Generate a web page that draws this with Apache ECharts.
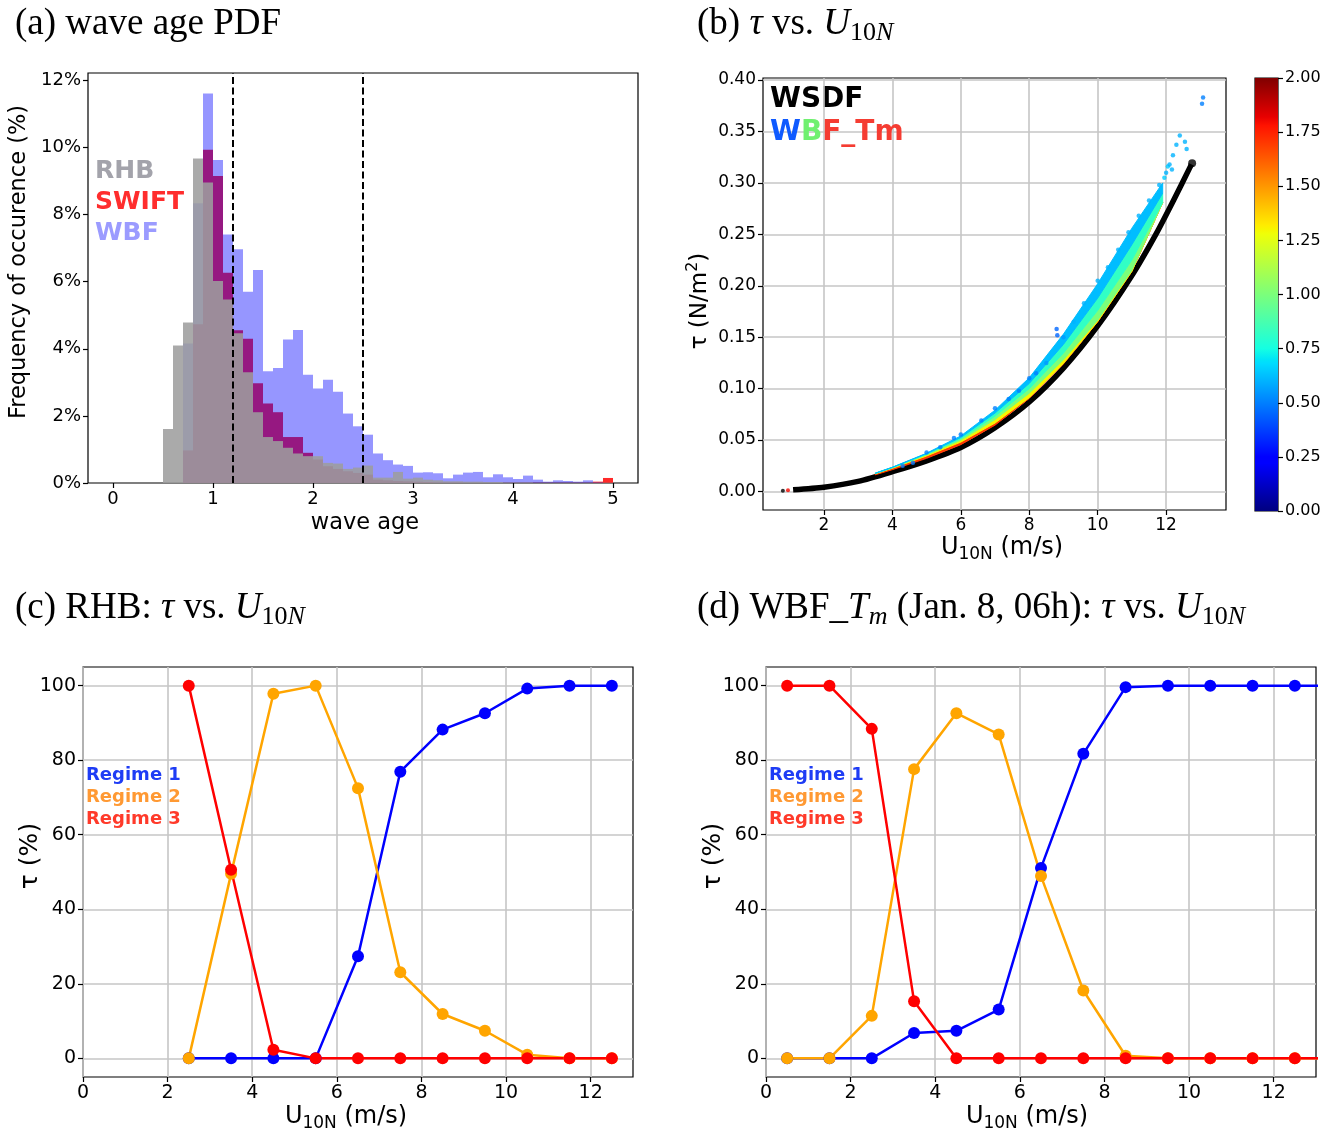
<!DOCTYPE html>
<html><head><meta charset="utf-8">
<script src="https://cdn.jsdelivr.net/npm/echarts@6/dist/echarts.min.js"></script>
<style>html,body{margin:0;padding:0;background:#fff}#c{width:1336px;height:1136px}</style>
</head><body><div id="c"></div>
<script>
// ================= DATA =================
// (a) wave age histograms (% per 0.1 bin, left edges)
const BIN_LEFT = [0.5,0.6,0.7,0.8,0.9,1.0,1.1,1.2,1.3,1.4,1.5,1.6,1.7,1.8,1.9,2.0,2.1,2.2,2.3,2.4,2.5,2.6,2.7,2.8,2.9,3.0,3.1,3.2,3.3,3.4,3.5,3.6,3.7,3.8,3.9,4.0,4.1,4.2,4.3,4.4,4.5,4.6,4.7,4.8,4.9];
const BIN_WIDTH = 0.1;
const RHB   = [1.61,4.10,4.78,9.67,8.96,6.02,5.47,4.46,3.30,2.11,1.37,1.25,1.05,0.88,0.80,0.80,0.60,0.58,0.42,0.46,0.52,0.16,0.16,0.33,0.13,0.16,0.10,0.08,0.05,0.05,0.04,0.04,0.03,0.03,0.02,0.02,0.02,0.01,0.01,0.01,0.01,0.01,0.01,0.01,0.01];
const SWIFT = [0,0,0.97,4.73,9.93,9.15,6.27,4.55,4.30,2.97,2.37,2.11,1.37,1.37,0.90,0.70,0.50,0.42,0.35,0.30,0.25,0.10,0.08,0.06,0.05,0.04,0.03,0.02,0.02,0.02,0.01,0.01,0.01,0.01,0.01,0.01,0.01,0.01,0.01,0.01,0.01,0.01,0.01,0.04,0.15];
const WBF   = [0,0,4.16,8.34,11.61,9.63,7.41,6.97,5.70,6.35,3.33,3.43,4.28,4.56,3.23,2.82,3.08,2.72,2.07,1.69,1.44,0.88,0.68,0.55,0.51,0.31,0.32,0.29,0.14,0.25,0.31,0.33,0.17,0.26,0.17,0.12,0.22,0.10,0.04,0.08,0.06,0.04,0.08,0.02,0];
const WAVE_AGE_LINES = [1.2, 2.5];
const A_XTICKS = [0,1,2,3,4,5];
const A_YTICKS = [0,2,4,6,8,10,12];

// (b) stress vs wind
const U_WSDF = [1.1,2,3,4,5,6,7,8,9,10,11,11.7,12.2,12.74];
const T_WSDF = [0.0017,0.0042,0.0098,0.0192,0.0298,0.0428,0.0620,0.0870,0.1200,0.1610,0.2100,0.2500,0.2820,0.3180];
const WSDF_END = [[12.76,0.319]];
const LOW_DOTS = [[0.8,0.0008,-1],[0.95,0.0012,1.8]];
const U_BAND = [3.5,4,5,6,7,8,9,10,11,11.9];
const BAND_EDGES = [
  [0.0162,0.0212,0.0322,0.0455,0.0645,0.0905,0.1240,0.1650,0.2140,0.2810],
  [0.0172,0.0226,0.0345,0.0480,0.0665,0.0912,0.1245,0.1652,0.2140,0.2810],
  [0.0175,0.0230,0.0355,0.0498,0.0700,0.0955,0.1280,0.1665,0.2150,0.2810],
  [0.0176,0.0232,0.0362,0.0512,0.0732,0.1000,0.1345,0.1760,0.2250,0.2810],
  [0.0177,0.0234,0.0367,0.0525,0.0762,0.1050,0.1430,0.1880,0.2400,0.2900],
  [0.0178,0.0236,0.0372,0.0540,0.0790,0.1105,0.1530,0.2020,0.2560,0.3000]
];
const BAND_WAVE_AGE = [1.7,1.3,1.0,0.82,0.62];
const EDGE_DOTS = [[4.3,0.025,0.5],[4.6,0.028,0.5],[5.0,0.038,0.5],[5.4,0.043,0.5],[5.8,0.052,0.5],[6.0,0.0555,0.5],[6.6,0.069,0.5],[7.0,0.081,0.5],[7.4,0.090,0.5],[7.7,0.098,0.5],[8.0,0.110,0.5],[8.2,0.115,0.5],[8.5,0.125,0.55],[8.8,0.158,0.45],[8.82,0.152,0.45],[9.0,0.150,0.55],[9.3,0.165,0.6],[9.6,0.183,0.6],[10.0,0.205,0.6],[10.3,0.218,0.6],[10.6,0.235,0.6],[10.9,0.252,0.6],[11.2,0.268,0.6],[11.5,0.283,0.6],[11.8,0.298,0.6],[11.95,0.305,0.65],[12.0,0.31,0.6],[12.05,0.316,0.65],[12.1,0.318,0.6],[12.17,0.313,0.6],[12.2,0.327,0.6],[12.3,0.337,0.6],[12.4,0.346,0.6],[12.55,0.340,0.6],[12.6,0.333,0.6],[13.05,0.377,0.5],[13.08,0.383,0.5]];
const B_XTICKS = [2,4,6,8,10,12];
const B_YTICKS = [0,0.05,0.10,0.15,0.20,0.25,0.30,0.35,0.40];
const CB_MIN = 0, CB_MAX = 2;
const CB_TICKS = [0,0.25,0.5,0.75,1.0,1.25,1.5,1.75,2.0];

// (c) RHB regimes
const C_X  = [2.5,3.5,4.5,5.5,6.5,7.5,8.5,9.5,10.5,11.5,12.5];
const C_R1 = [0,0,0,0,27.4,76.9,88.2,92.6,99.2,100,100];
const C_R2 = [0,49.5,97.8,100,72.5,23.1,11.9,7.4,1.0,0,0];
const C_R3 = [100,50.6,2.3,0,0,0,0,0,0,0,0];
// (d) WBF_Tm regimes
const D_X  = [0.5,1.5,2.5,3.5,4.5,5.5,6.5,7.5,8.5,9.5,10.5,11.5,12.5,13.5];
const D_R1 = [0,0,0,6.8,7.4,13.1,51.1,81.7,99.6,100,100,100,100,100];
const D_R2 = [0,0,11.4,77.6,92.6,86.9,48.9,18.2,0.7,0,0,0,0,0];
const D_R3 = [100,100,88.4,15.3,0,0,0,0,0,0,0,0,0,0];
const CD_XTICKS = [0,2,4,6,8,10,12];
const CD_YTICKS = [0,20,40,60,80,100];

// ================= STYLE HELPERS =================
const SANS = 'DejaVu Sans', SERIF = 'Liberation Serif';
const jetR=[[0,0],[0.35,0],[0.66,1],[0.89,1],[1,0.5]];
const jetG=[[0,0],[0.125,0],[0.375,1],[0.64,1],[0.91,0],[1,0]];
const jetB=[[0,0.5],[0.11,1],[0.34,1],[0.65,0],[1,0]];
function seg(t,a){t=Math.max(0,Math.min(1,t));for(let i=1;i<a.length;i++){if(t<=a[i][0]){const f=(t-a[i-1][0])/(a[i][0]-a[i-1][0]);return a[i-1][1]+f*(a[i][1]-a[i-1][1]);}}return a[a.length-1][1];}
function jetT(t){return 'rgb('+Math.round(255*seg(t,jetR))+','+Math.round(255*seg(t,jetG))+','+Math.round(255*seg(t,jetB))+')';}
function jet(v){return jetT((v-CB_MIN)/(CB_MAX-CB_MIN));}

function axisCommon(gi, min, max, ticks, fmt, fs, split, pos){
  return {type:'value', gridIndex:gi, min:min, max:max, position:pos,
    axisLine:{show:false, onZero:false},
    axisTick:{show:true, inside:false, length:5, customValues:ticks, lineStyle:{color:'#000', width:1.2}},
    axisLabel:{customValues:ticks, formatter:fmt, fontFamily:SANS, fontSize:fs, color:'#000', margin:7},
    splitLine:{show:split, lineStyle:{color:'#c6c6c6', width:1.6}}};
}
function histSeries(vals, fill){
  return {type:'custom', xAxisIndex:0, yAxisIndex:0, silent:true,
    data: BIN_LEFT.map((b,i)=>[b, vals[i]]),
    renderItem:function(params, api){
      const x0 = api.value(0), v = api.value(1);
      if (!v) return null;
      const p0 = api.coord([x0, 0]), p1 = api.coord([x0 + BIN_WIDTH, v]);
      return {type:'rect', shape:{x:p0[0], y:p1[1], width:p1[0]-p0[0], height:p0[1]-p1[1]}, style:{fill:fill}};
    }};
}
function regimeLine(gi, xs, ys, color){
  return {type:'line', xAxisIndex:gi, yAxisIndex:gi, data: xs.map((x,i)=>[x, ys[i]]),
    symbol:'circle', symbolSize:12, showSymbol:true, clip:true,
    lineStyle:{color:color, width:2.5}, itemStyle:{color:color}};
}
const gridBox = {show:true, borderColor:'#000', borderWidth:1.2, backgroundColor:'rgba(0,0,0,0)'};

const TF = 37, TS = 26;
const titleRich = {
  i:{fontStyle:'italic', fontFamily:SERIF, fontSize:TF, lineHeight:44},
  s:{fontFamily:SERIF, fontSize:TS, lineHeight:21, verticalAlign:'bottom'},
  si:{fontStyle:'italic', fontFamily:SERIF, fontSize:TS, lineHeight:21, verticalAlign:'bottom'}
};
function title(x, y, text){
  return {type:'text', x:x, y:y, style:{text:text, fontFamily:SERIF, fontSize:TF, lineHeight:44, fill:'#000', verticalAlign:'middle', rich:titleRich}};
}
const labRich = {s:{fontFamily:SANS, fontSize:17, lineHeight:16, verticalAlign:'bottom'}, p:{fontFamily:SANS, fontSize:16, lineHeight:14, verticalAlign:'top'}};
function label(x, y, text, fs, rot){
  return {type:'text', x:x, y:y, rotation: rot ? Math.PI/2 : 0,
    style:{text:text, fontFamily:SANS, fontSize:fs, lineHeight:30, fill:'#000', align:'center', verticalAlign:'middle', rich:labRich}};
}
function legendText(x, y, text, color, fs){
  return {type:'text', x:x, y:y, style:{text:text, fontFamily:SANS, fontWeight:'bold', fontSize:fs, fill:color, verticalAlign:'middle'}};
}

const cbStops = [0,0.11,0.125,0.34,0.35,0.375,0.5,0.64,0.65,0.66,0.89,0.91,1].map(t=>({offset:t, color:jetT(t)}));

const option = {
  animation:false,
  backgroundColor:'#fff',
  grid:[
    Object.assign({left:88, top:73, width:550, height:410}, gridBox),
    Object.assign({left:763, top:78, width:463, height:432}, gridBox),
    Object.assign({left:1255, top:78, width:23, height:433}, gridBox),
    Object.assign({left:83, top:667, width:550, height:410}, gridBox),
    Object.assign({left:766, top:667, width:550, height:410}, gridBox)
  ],
  xAxis:[
    axisCommon(0, -0.25, 5.25, A_XTICKS, v=>String(v), 18, false, 'bottom'),
    axisCommon(1, 0.22, 13.75, B_XTICKS, v=>String(v), 17, true, 'bottom'),
    {type:'category', gridIndex:2, data:['cb'], show:false},
    axisCommon(3, 0, 13, CD_XTICKS, v=>String(v), 19, true, 'bottom'),
    axisCommon(4, 0, 13, CD_XTICKS, v=>String(v), 19, true, 'bottom')
  ],
  yAxis:[
    axisCommon(0, 0, 12.22, A_YTICKS, v=>v+'%', 18, false, 'left'),
    axisCommon(1, -0.018, 0.402, B_YTICKS, v=>v.toFixed(2), 17, true, 'left'),
    axisCommon(2, CB_MIN, CB_MAX, CB_TICKS, v=>v.toFixed(2), 16, false, 'right'),
    axisCommon(3, -5, 105, CD_YTICKS, v=>String(v), 19, true, 'left'),
    axisCommon(4, -5, 105, CD_YTICKS, v=>String(v), 19, true, 'left')
  ],
  series:[
    histSeries(SWIFT, 'rgba(255,0,0,0.84)'),
    histSeries(WBF, 'rgba(0,0,255,0.41)'),
    histSeries(RHB, 'rgba(157,157,157,0.87)'),
    {type:'line', xAxisIndex:0, yAxisIndex:0, data:[], silent:true,
      markLine:{silent:true, symbol:['none','none'], label:{show:false}, animation:false,
        lineStyle:{color:'#000', type:[7,3.5], width:2},
        data: WAVE_AGE_LINES.map(v=>({xAxis:v}))}},
    // (b)
    {type:'line', xAxisIndex:1, yAxisIndex:1, data:U_WSDF.map((u,i)=>[u,T_WSDF[i]]), smooth:0.25,
      showSymbol:false, lineStyle:{color:'#000', width:5.5}, z:2},
    {type:'scatter', xAxisIndex:1, yAxisIndex:1, data:WSDF_END, symbolSize:8, itemStyle:{color:'#000'}, z:2},
    {type:'scatter', xAxisIndex:1, yAxisIndex:1, data:LOW_DOTS, symbolSize:4,
      itemStyle:{color:p=> p.value[2] < 0 ? '#000' : jet(p.value[2])}, z:3},
    {type:'custom', xAxisIndex:1, yAxisIndex:1, silent:true, z:3,
      data: BAND_WAVE_AGE.map((w,k)=>[k, w]),
      renderItem:function(params, api){
        const k = params.dataIndex;
        const lo = BAND_EDGES[k], hi = BAND_EDGES[k+1];
        const pts = U_BAND.map((u,i)=>api.coord([u, hi[i]]));
        const back = U_BAND.map((u,i)=>api.coord([u, lo[i]])).reverse();
        return {type:'polygon', shape:{points:pts.concat(back)}, style:{fill:jet(BAND_WAVE_AGE[k]), stroke:jet(BAND_WAVE_AGE[k]), lineWidth:1}};
      }},
    {type:'scatter', xAxisIndex:1, yAxisIndex:1, data:EDGE_DOTS, symbolSize:4.5,
      itemStyle:{color:p=>jet(p.value[2])}, z:4},
    // colorbar
    {type:'bar', xAxisIndex:2, yAxisIndex:2, data:[CB_MAX], barWidth:'100%', silent:true,
      itemStyle:{color:new echarts.graphic.LinearGradient(0,1,0,0,cbStops)}},
    // (c)
    regimeLine(3, C_X, C_R1, '#0000ff'),
    regimeLine(3, C_X, C_R2, '#ffa500'),
    regimeLine(3, C_X, C_R3, '#ff0000'),
    // (d)
    regimeLine(4, D_X, D_R1, '#0000ff'),
    regimeLine(4, D_X, D_R2, '#ffa500'),
    regimeLine(4, D_X, D_R3, '#ff0000')
  ],
  graphic:[
    title(15, 24, '(a) wave age PDF'),
    title(697, 24, '(b) {i|τ} vs. {i|U}{s|10}{si|N}'),
    title(15, 608, '(c) RHB: {i|τ} vs. {i|U}{s|10}{si|N}'),
    title(697, 608, '(d) WBF_{i|T}{si|m} (Jan. 8, 06h): {i|τ} vs. {i|U}{s|10}{si|N}'),
    label(19, 262, 'Frequency of occurence (%)', 22.5, true),
    label(365, 523, 'wave age', 22.5, false),
    label(700, 301, 'τ (N/m{p|2})', 23, true),
    label(1002, 548, 'U{s|10N} (m/s)', 24, false),
    label(30, 856, 'τ (%)', 25, true),
    label(346, 1117, 'U{s|10N} (m/s)', 24, false),
    label(713, 856, 'τ (%)', 25, true),
    label(1027, 1117, 'U{s|10N} (m/s)', 24, false),
    legendText(95, 171, 'RHB', '#a3a3ab', 25),
    legendText(95, 202, 'SWIFT', '#ff2d2d', 25),
    legendText(95, 233, 'WBF', '#9b9bff', 25),
    legendText(770, 100, 'WSDF', '#000', 28),
    {type:'text', x:770, y:133, z:100, style:{text:'{w|W}{b|B}{f|F_Tm}', verticalAlign:'middle', fontFamily:SANS, fontWeight:'bold', fontSize:28,
      rich:{w:{fill:'#0f5aff', fontFamily:SANS, fontWeight:'bold', fontSize:28}, b:{fill:'#70f070', fontFamily:SANS, fontWeight:'bold', fontSize:28}, f:{fill:'#f53c32', fontFamily:SANS, fontWeight:'bold', fontSize:28}}}},
    legendText(86, 775, 'Regime 1', '#1e3cf5', 18),
    legendText(86, 797, 'Regime 2', '#ff9933', 18),
    legendText(86, 819, 'Regime 3', '#ff3a2a', 18),
    legendText(769, 775, 'Regime 1', '#1e3cf5', 18),
    legendText(769, 797, 'Regime 2', '#ff9933', 18),
    legendText(769, 819, 'Regime 3', '#ff3a2a', 18)
  ]
};
const chart = echarts.init(document.getElementById('c'), null, {renderer:'canvas'});
chart.setOption(option);
</script></body></html>
